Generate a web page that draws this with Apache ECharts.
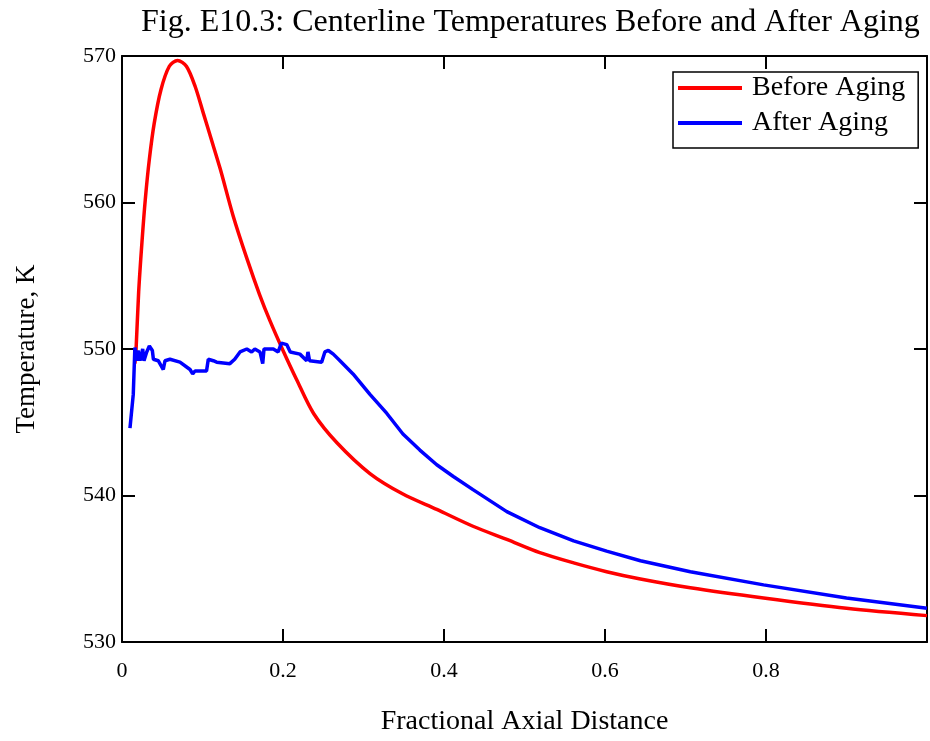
<!DOCTYPE html>
<html>
<head>
<meta charset="utf-8">
<script src="https://cdn.jsdelivr.net/npm/echarts@6/dist/echarts.min.js"></script>
<style>
  html, body { margin: 0; padding: 0; background: #fff; overflow: hidden; }
  #main { width: 930px; height: 741px; }
</style>
</head>
<body>
<div id="main"></div>
<script>
// values
var beforeX = [0.016, 0.0174, 0.0207, 0.0248, 0.029, 0.034, 0.040, 0.0484, 0.0588, 0.069, 0.080,
  0.091, 0.101, 0.111, 0.122, 0.138, 0.155, 0.171, 0.184, 0.200, 0.217, 0.238, 0.267,
  0.308, 0.349, 0.391, 0.436, 0.478, 0.519, 0.561, 0.602, 0.644, 0.706, 0.797, 0.900, 1.0];
var beforeY = [549.0, 549.9, 553.9, 557.3, 560.25, 562.96, 565.4, 567.7, 569.3, 569.7, 569.3,
  567.9, 566.1, 564.3, 562.3, 559.1, 556.2, 553.7, 551.9, 549.9, 547.9, 545.6, 543.6,
  541.5, 540.1, 539.05, 537.9, 537.0, 536.1, 535.4, 534.8, 534.3, 533.7, 533.0, 532.3, 531.8];

var afterX = [0.0099, 0.014, 0.016, 0.018, 0.020, 0.0224, 0.0257, 0.0273, 0.0307, 0.034,
  0.0377, 0.039, 0.045, 0.0513, 0.0534, 0.0596, 0.072, 0.0845, 0.0878, 0.0907, 0.105,
  0.1072, 0.1134, 0.1176, 0.134, 0.140, 0.1466, 0.155, 0.161, 0.165, 0.1714, 0.1748,
  0.1764, 0.188, 0.194, 0.198, 0.2046, 0.209, 0.221, 0.2294, 0.231, 0.233, 0.248, 0.252,
  0.2563, 0.2625, 0.2708, 0.287, 0.308, 0.329, 0.349, 0.370, 0.391, 0.4116, 0.436, 0.478,
  0.519, 0.561, 0.602, 0.644, 0.706, 0.797, 0.900, 1.0];
var afterY = [544.6, 546.9, 550.1, 549.2, 549.9, 549.2, 550.0, 549.2, 549.8, 550.2,
  549.9, 549.3, 549.2, 548.6, 549.2, 549.3, 549.1, 548.6, 548.3, 548.5, 548.5,
  549.3, 549.2, 549.1, 549.0, 549.3, 549.8, 550.0, 549.8, 550.0, 549.8, 549.0,
  550.0, 550.0, 549.8, 550.4, 550.3, 549.8, 549.65, 549.2, 549.8, 549.2, 549.1, 549.8,
  549.9, 549.65, 549.2, 548.3, 546.9, 545.6, 544.2, 543.1, 542.1, 541.3, 540.4, 538.9,
  537.8, 536.9, 536.2, 535.55, 534.8, 533.9, 533.0, 532.3];

function pairs(xs, ys) {
  return xs.map(function (x, i) { return [x, ys[i]]; });
}

var serif = '"Liberation Serif", "Times New Roman", serif';
var tick = { show: true, inside: true, length: 13, lineStyle: { color: '#000', width: 2 } };
var frame = { show: true, onZero: false, lineStyle: { color: '#000', width: 2 } };

var myChart = echarts.init(document.getElementById('main'));
var option = {
  backgroundColor: '#fff',
  animation: false,
  title: {
    text: 'Fig. E10.3: Centerline Temperatures Before and After Aging',
    left: 136,
    top: 2,
    textStyle: { fontFamily: serif, fontSize: 32, fontWeight: 'normal', color: '#000' }
  },
  legend: {
    orient: 'vertical',
    left: 673,
    top: 72,
    padding: [1, 13, 10, 5],
    itemGap: 5,
    itemWidth: 64,
    itemHeight: 4,
    icon: 'rect',
    borderColor: '#000',
    borderWidth: 1.5,
    borderRadius: 0,
    textStyle: { fontFamily: serif, fontSize: 28, color: '#000', lineHeight: 30, padding: [0, 0, 0, 5] },
    data: ['Before Aging', 'After Aging']
  },
  grid: { left: 122, right: -2, top: 56, bottom: 94 },
  xAxis: [{
    type: 'value',
    min: 0, max: 1, interval: 0.2,
    name: 'Fractional Axial Distance',
    nameLocation: 'middle',
    nameGap: 66,
    nameTextStyle: { fontFamily: serif, fontSize: 28, color: '#000' },
    axisLine: frame,
    axisTick: tick,
    axisLabel: {
      fontFamily: serif, fontSize: 22, color: '#000', margin: 18,
      formatter: function (v) { return v >= 1 ? '' : String(Math.round(v * 10) / 10); }
    },
    splitLine: { show: false }
  }, {
    type: 'value',
    position: 'top',
    min: 0, max: 1, interval: 0.2,
    axisLine: frame,
    axisTick: tick,
    axisLabel: { show: false },
    splitLine: { show: false }
  }],
  yAxis: [{
    type: 'value',
    min: 530, max: 570, interval: 10,
    name: 'Temperature, K',
    nameLocation: 'middle',
    nameGap: 82,
    nameRotate: 90,
    nameTextStyle: { fontFamily: serif, fontSize: 27, color: '#000' },
    axisLine: frame,
    axisTick: tick,
    axisLabel: { fontFamily: serif, fontSize: 22, color: '#000', margin: 6 },
    splitLine: { show: false }
  }, {
    type: 'value',
    position: 'right',
    min: 530, max: 570, interval: 10,
    axisLine: frame,
    axisTick: tick,
    axisLabel: { show: false },
    splitLine: { show: false }
  }],
  series: [{
    name: 'Before Aging',
    type: 'line',
    data: pairs(beforeX, beforeY),
    smooth: 0.3,
    showSymbol: false,
    lineStyle: { color: '#ff0000', width: 3.5 },
    itemStyle: { color: '#ff0000' }
  }, {
    name: 'After Aging',
    type: 'line',
    data: pairs(afterX, afterY),
    showSymbol: false,
    lineStyle: { color: '#0000ff', width: 3.5 },
    itemStyle: { color: '#0000ff' }
  }]
};
myChart.setOption(option);
</script>
</body>
</html>
